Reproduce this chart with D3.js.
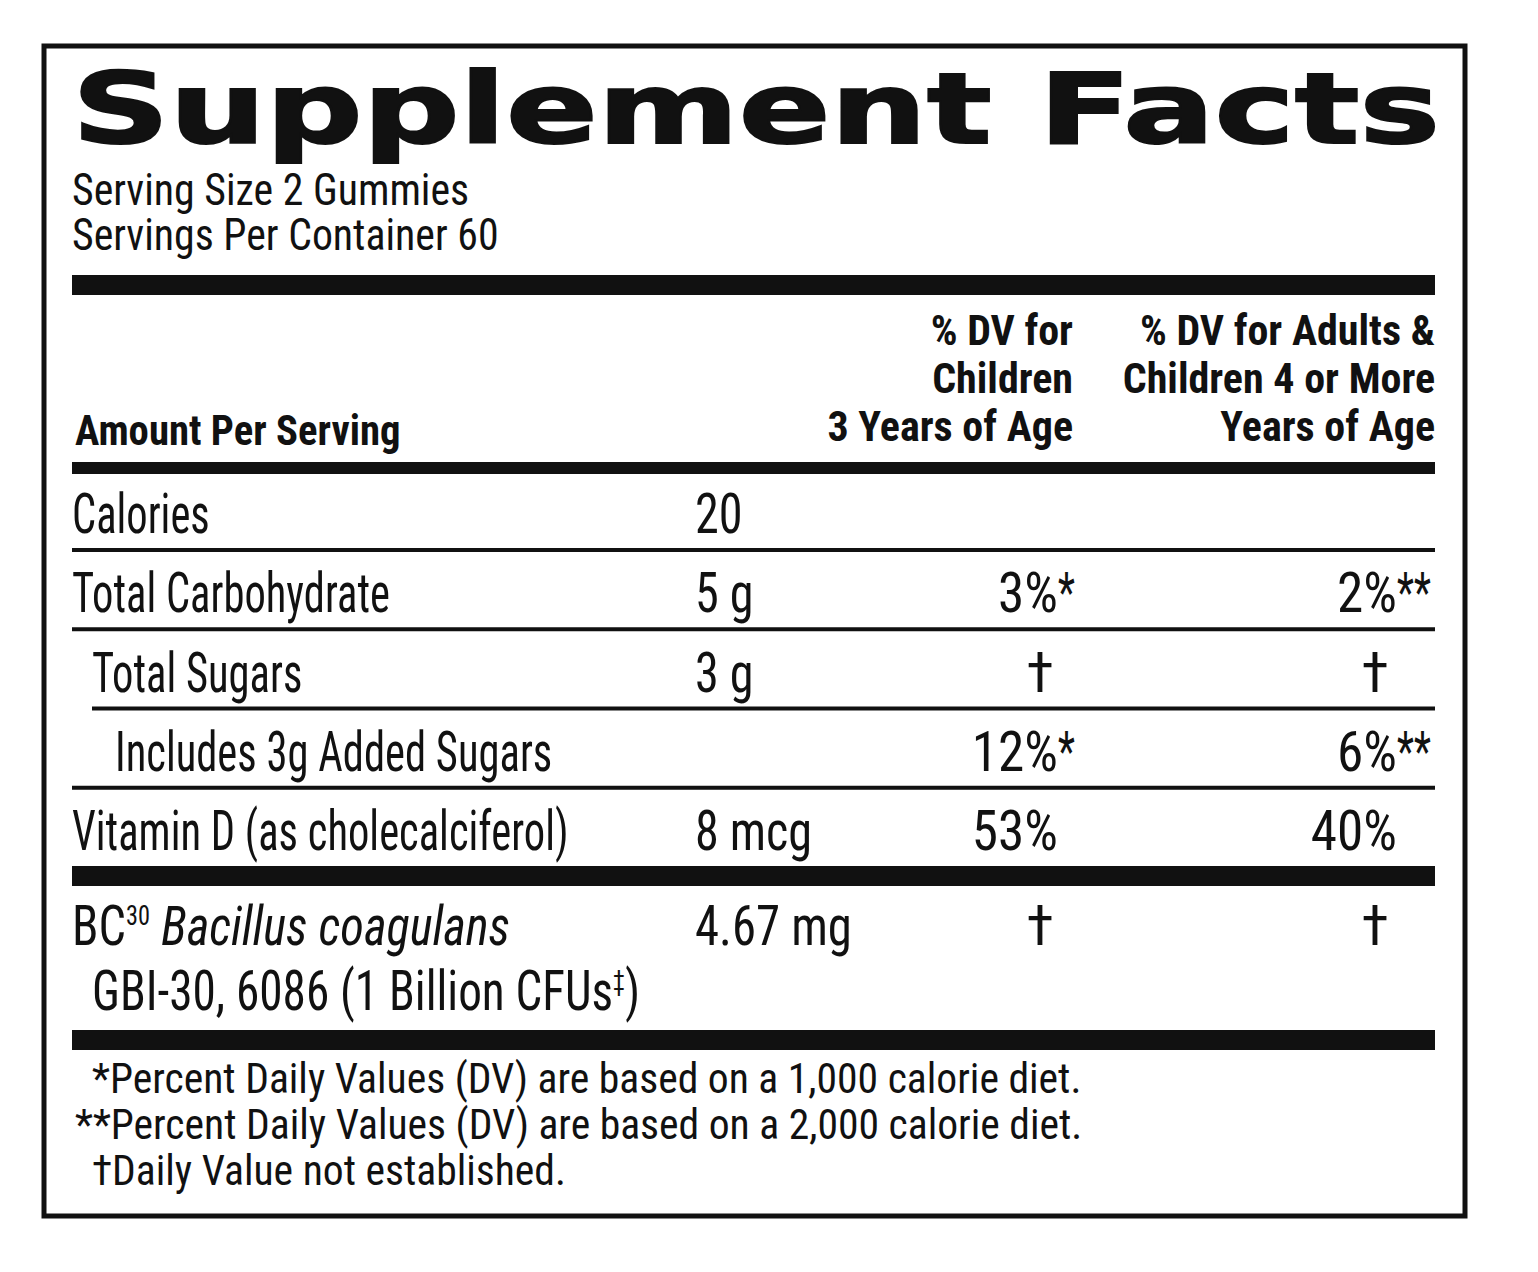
<!DOCTYPE html>
<html><head><meta charset="utf-8">
<script src="https://cdn.jsdelivr.net/npm/d3@7"></script>
<style>body{margin:0;background:#fff}</style>
</head><body>
<script>
// label data
var servingLines = ["Serving Size 2 Gummies", "Servings Per Container 60"];
var headChild = ["% DV for", "Children", "3 Years of Age"];
var headAdult = ["% DV for Adults &", "Children 4 or More", "Years of Age"];
var rowLabels = ["Calories", "Total Carbohydrate", "Total Sugars", "Includes 3g Added Sugars", "Vitamin D (as cholecalciferol)"];
var rowIndent = [0, 0, 1, 2, 0];
var rowAmounts = ["20", "5 g", "3 g", "", "8 mcg"];
var dvChild = ["", "3%", "†", "12%", "53%"];
var dvChildMark = ["", "*", "", "*", ""];
var dvAdult = ["", "2%", "†", "6%", "40%"];
var dvAdultMark = ["", "**", "", "**", ""];
var footnotes = ["*Percent Daily Values (DV) are based on a 1,000 calorie diet.",
                 "**Percent Daily Values (DV) are based on a 2,000 calorie diet.",
                 "†Daily Value not established."];

var W = 1538, H = 1272, L = 72, R = 1435;
var narrow = "'Liberation Sans Narrow', 'Roboto Condensed', 'Liberation Sans', sans-serif";
// Breite pro Zeichen fuer die gestauchte Schrift
var cond = 0.86;

var svg = d3.select("body").append("svg").attr("width", W).attr("height", H);

// Rahmen
svg.append("rect").attr("x", 44).attr("y", 46).attr("width", 1421).attr("height", 1170)
  .attr("fill", "none").attr("stroke", "#111").attr("stroke-width", 5);

svg.append("text").attr("x", 72).attr("y", 143).text("Supplement Facts")
  .style("font-family", "'DejaVu Sans', sans-serif").style("font-weight", 900)
  .style("font-size", "98px").attr("textLength", 1368).attr("lengthAdjust", "spacingAndGlyphs")
  .attr("fill", "#111").attr("stroke", "#111").attr("stroke-width", 2);

var txt = function(s, x, y, size, opts) {
  opts = opts || {};
  var t = svg.append("text").attr("x", x).attr("y", y).text(s)
    .style("font-family", narrow).style("font-size", size + "px").attr("fill", "#111")
    .attr("text-anchor", opts.anchor || "start");
  if (opts.bold) t.style("font-weight", "bold");
  if (opts.italic) t.style("font-style", "italic");
  if (opts.squeeze && s) {
    var w = t.node().getComputedTextLength();
    t.attr("textLength", w * opts.squeeze).attr("lengthAdjust", "spacingAndGlyphs");
  }
  return t;
};

var yS = d3.scalePoint().domain(d3.range(servingLines.length)).range([205, 250]);
servingLines.forEach(function(s, i) { txt(s, 72, yS(i), 44, {squeeze: 0.95}); });

var bar = function(x1, y, x2, h) {
  svg.append("rect").attr("x", x1).attr("y", y).attr("width", x2 - x1).attr("height", h).attr("fill", "#111");
};
bar(L, 275, R, 20);

var yH = d3.scalePoint().domain(d3.range(3)).range([345, 441]);
headChild.forEach(function(s, i) { txt(s, 1073, yH(i), 42, {bold: true, anchor: "end"}); });
headAdult.forEach(function(s, i) { txt(s, 1435, yH(i), 42, {bold: true, anchor: "end"}); });
txt("Amount Per Serving", 75, 445, 42, {bold: true, squeeze: 0.97});
bar(L, 462, R, 12);

var yR = d3.scalePoint().domain(d3.range(rowLabels.length)).range([533, 850]);
var indentX = [72, 92, 115];
rowLabels.forEach(function(s, i) {
  var y = yR(i);
  txt(s, indentX[rowIndent[i]], y, 56, {squeeze: 0.76});
  txt(rowAmounts[i], 695, y, 56, {squeeze: cond});
  if (dvChild[i] === "†") txt("†", 1040, y, 56, {anchor: "middle"});
  else { txt(dvChild[i], 1058, y, 56, {anchor: "end", squeeze: 0.95}); txt(dvChildMark[i], 1058, y, 56, {squeeze: 0.7}); }
  if (dvAdult[i] === "†") txt("†", 1375, y, 56, {anchor: "middle"});
  else { txt(dvAdult[i], 1397, y, 56, {anchor: "end", squeeze: 0.95}); txt(dvAdultMark[i], 1397, y, 56, {squeeze: 0.7}); }
  if (i < rowLabels.length - 1) {
    var lx = rowIndent[i + 1] === 2 ? 92 : L;
    bar(lx, y + 15, R, 4);
  }
});
bar(L, 866, R, 20);

// BC30 Zeile
var bc = txt("BC", 72, 945, 56);
bc.append("tspan").text("30").style("font-size", "28px").attr("dy", -20);
bc.append("tspan").text(" Bacillus coagulans").style("font-style", "italic").attr("dy", 20);
bc.attr("textLength", 438).attr("lengthAdjust", "spacingAndGlyphs");
var g2 = txt("GBI-30, 6086 (1 Billion CFUs", 92, 1010, 56);
g2.append("tspan").text("‡").style("font-size", "28px").attr("dy", -20);
g2.append("tspan").text(")").attr("dy", 20);
g2.attr("textLength", 548).attr("lengthAdjust", "spacingAndGlyphs");
txt("4.67 mg", 695, 945, 56, {squeeze: 0.87});
txt("†", 1040, 945, 56, {anchor: "middle"});
txt("†", 1375, 945, 56, {anchor: "middle"});
bar(L, 1030, R, 20);

var fx = [92, 75, 92];
var yF = d3.scalePoint().domain(d3.range(footnotes.length)).range([1093, 1185]);
footnotes.forEach(function(s, i) { txt(s, fx[i], yF(i), 42, {squeeze: 0.99}); });
</script>
</body></html>
